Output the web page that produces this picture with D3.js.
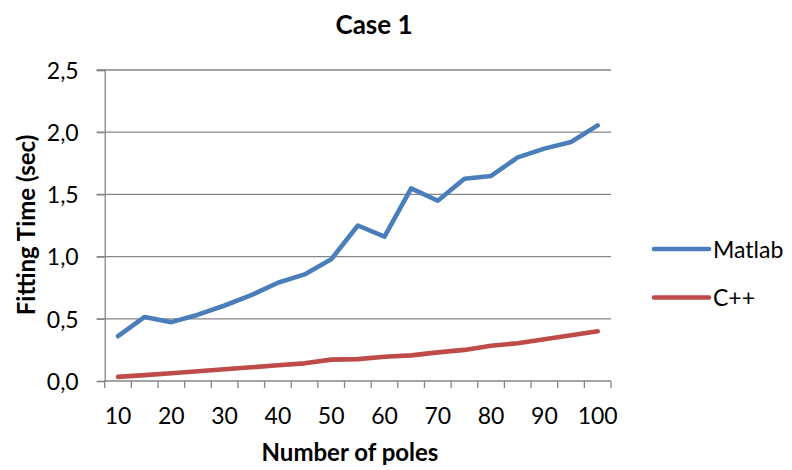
<!DOCTYPE html>
<html>
<head>
<meta charset="utf-8">
<script src="https://cdn.jsdelivr.net/npm/d3@7"></script>
<style>
  html, body { margin: 0; padding: 0; background: #fff; }
  svg { display: block; font-family: Lato, "Open Sans", sans-serif; }
</style>
</head>
<body>
<svg id="chart" width="792" height="470"></svg>
<script>
const categories = [10, 15, 20, 25, 30, 35, 40, 45, 50, 55, 60, 65, 70, 75, 80, 85, 90, 95, 100];
const tickLabels = [10, 20, 30, 40, 50, 60, 70, 80, 90, 100];
const matlab = [0.36, 0.515, 0.473, 0.533, 0.607, 0.69, 0.79, 0.857, 0.978, 1.25, 1.16, 1.549, 1.449, 1.626, 1.648, 1.798, 1.868, 1.921, 2.055];
const cpp = [0.033, 0.047, 0.062, 0.078, 0.094, 0.11, 0.126, 0.142, 0.172, 0.176, 0.195, 0.206, 0.23, 0.25, 0.284, 0.303, 0.335, 0.367, 0.40];
const yTicks = [0, 0.5, 1.0, 1.5, 2.0, 2.5];
const seriesNames = ["Matlab", "C++"];
const seriesColors = ["#4A7EBB", "#BE4B48"];

const svg = d3.select("#chart");
const pLeft = 104.7, pRight = 611, pTop = 70, pBottom = 381;
const gridColor = "#868686";

const x = d3.scaleBand().domain(categories).range([pLeft, pRight]).paddingInner(0).paddingOuter(0);
const y = d3.scaleLinear().domain([0, 2.5]).range([pBottom, pTop]);
const locale = d3.formatLocale({decimal: ",", thousands: ".", grouping: [3], currency: ["", ""]});
const fmt = locale.format(".1f");

// gridlines
svg.append("g").selectAll("line").data(yTicks.filter(d => d > 0)).join("line")
  .attr("x1", pLeft - 8).attr("x2", pRight)
  .attr("y1", d => y(d)).attr("y2", d => y(d))
  .attr("stroke", gridColor).attr("stroke-width", 1.3);

// y axis
const yAxis = svg.append("g").attr("transform", `translate(${pLeft},0)`)
  .call(d3.axisLeft(y).tickValues(yTicks).tickFormat(fmt).tickSize(8).tickPadding(18));
yAxis.select(".domain").attr("stroke", gridColor).attr("stroke-width", 1.3);
yAxis.selectAll(".tick line").attr("stroke", gridColor).attr("stroke-width", 1.3);
yAxis.selectAll(".tick text").attr("font-size", 23).attr("fill", "#000")
  .attr("font-family", "Lato").attr("dy", "0.36em").attr("x", -26);

// x axis labels
const xAxis = svg.append("g").attr("transform", `translate(0,${pBottom})`)
  .call(d3.axisBottom(x).tickValues(tickLabels).tickSize(0).tickPadding(0));
xAxis.select(".domain").remove();
xAxis.selectAll(".tick text").attr("font-size", 23).attr("fill", "#000")
  .attr("font-family", "Lato").attr("dy", 0).attr("y", 43);

// x axis line + tick marks at category boundaries
svg.append("line").attr("x1", pLeft).attr("x2", pRight).attr("y1", pBottom).attr("y2", pBottom)
  .attr("stroke", gridColor).attr("stroke-width", 1.3);
const bounds = categories.map(c => x(c)).concat([x(categories[categories.length - 1]) + x.bandwidth()]);
svg.append("g").selectAll("line").data(bounds).join("line")
  .attr("x1", d => d).attr("x2", d => d).attr("y1", pBottom).attr("y2", pBottom + 7)
  .attr("stroke", gridColor).attr("stroke-width", 1.3);

// lines
const line = d3.line().x((d, i) => x(categories[i]) + x.bandwidth() / 2).y(d => y(d));
[matlab, cpp].forEach((s, i) => {
  svg.append("path").datum(s).attr("d", line).attr("fill", "none")
    .attr("stroke", seriesColors[i]).attr("stroke-width", 4.6)
    .attr("stroke-linejoin", "round").attr("stroke-linecap", "round");
});

// legend
const legY = [249, 297.5];
seriesNames.forEach((n, i) => {
  svg.append("line").attr("x1", 654).attr("x2", 709).attr("y1", legY[i]).attr("y2", legY[i])
    .attr("stroke", seriesColors[i]).attr("stroke-width", 4.6).attr("stroke-linecap", "round");
  svg.append("text").attr("x", 713).attr("y", legY[i] + 8.5).attr("font-size", 23)
    .attr("font-family", "Lato").attr("fill", "#000").text(n);
});

// title
svg.append("text").attr("x", 374).attr("y", 34).attr("text-anchor", "middle")
  .attr("font-size", 26).attr("font-weight", "bold").attr("font-family", "Lato").text("Case 1");

// axis titles
svg.append("text").attr("x", 350).attr("y", 461).attr("text-anchor", "middle")
  .attr("font-size", 24).attr("font-weight", "bold").attr("font-family", "Lato").text("Number of poles");
svg.append("text").attr("transform", "translate(35,225) rotate(-90)").attr("text-anchor", "middle")
  .attr("font-size", 24).attr("font-weight", "bold").attr("font-family", "Lato").text("Fitting Time (sec)");
</script>
</body>
</html>
